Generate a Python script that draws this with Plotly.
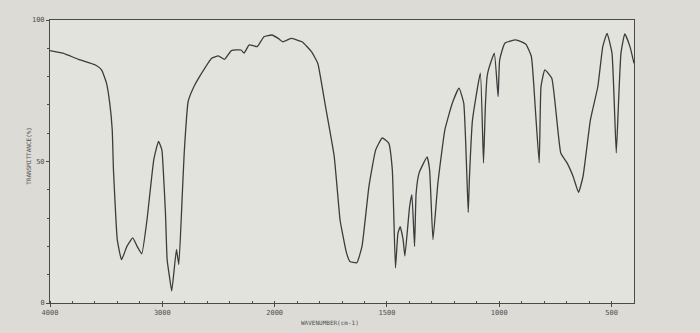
import plotly.graph_objects as go

# IR spectrum: wavenumber (cm-1) and transmittance (%)
wavenumber = [4000, 3885, 3747, 3595, 3541, 3497, 3468, 3446, 3435, 3419, 3401, 3363,
              3315, 3263, 3224, 3183, 3136, 3076, 3034, 3004, 2990, 2972, 2957, 2937,
              2916, 2874, 2853, 2824, 2805, 2770, 2718, 2670, 2560, 2501, 2446, 2385,
              2299, 2272, 2226, 2155, 2095, 2023, 1984, 1963, 1927, 1878, 1836, 1808,
              1776, 1735, 1709, 1701, 1680, 1665, 1634, 1611, 1580, 1550, 1521, 1492,
              1476, 1462, 1451, 1441, 1428, 1420, 1399, 1389, 1377, 1370, 1357, 1321,
              1310, 1295, 1273, 1242, 1209, 1179, 1158, 1138, 1133, 1119, 1084, 1070,
              1062, 1054, 1048, 1022, 1005, 998, 975, 926, 882, 857, 839, 822,
              814, 797, 766, 726, 698, 671, 647, 627, 594, 561, 539, 520,
              498, 479, 469, 458, 441, 418, 400]
transmittance = [89.2, 88.3, 86.1, 84.1, 82.4, 77.7, 70.6, 61.2, 47.1, 34.1, 22.4, 15.3,
                 20.0, 23.0, 20.0, 17.4, 29.5, 50.6, 57.1, 54.1, 45.9, 31.9, 15.3, 9.5,
                 4.2, 18.9, 13.6, 36.5, 53.0, 71.2, 76.5, 79.9, 86.5, 87.3, 86.1, 89.2,
                 89.4, 88.3, 91.2, 90.6, 94.1, 94.7, 93.5, 92.3, 93.5, 92.3, 88.8, 84.7,
                 70.6, 52.0, 29.5, 25.9, 17.7, 14.7, 14.2, 20.0, 41.2, 54.1, 58.3, 56.5,
                 47.1, 12.4, 24.6, 27.0, 22.4, 16.6, 34.1, 38.3, 20.0, 38.8, 45.9, 51.6,
                 47.1, 22.4, 42.4, 61.2, 70.6, 75.9, 70.6, 32.0, 43.6, 64.7, 81.2, 49.5,
                 69.0, 80.0, 82.4, 88.3, 72.9, 85.9, 91.8, 93.0, 91.5, 87.1, 68.3, 49.5,
                 76.5, 82.4, 79.4, 53.0, 49.5, 44.7, 39.1, 44.7, 64.7, 76.5, 90.6, 95.3,
                 88.3, 53.0, 70.6, 88.3, 95.1, 90.6, 84.7]

x_tick_labels = [4000, 3000, 2000, 1500, 1000, 500]
y_tick_labels = [0, 50, 100]


def chart_pos(w):
    # chart paper scale: 1000 cm-1 per unit above 2000, 500 cm-1 per unit below
    return (4000 - w) / 1000 if w >= 2000 else 2 + (2000 - w) / 500


xs = [chart_pos(w) for w in wavenumber]

fig = go.Figure()
fig.add_trace(go.Scatter(
    x=xs, y=transmittance, mode="lines",
    line=dict(color="#3c3c3c", width=1.3, shape="spline", smoothing=0.4),
    hoverinfo="skip", showlegend=False))

axis_font = dict(family="DejaVu Sans Mono", size=7, color="#505050")

fig.update_layout(
    width=700, height=333,
    margin=dict(l=50, r=66, t=20, b=30),
    paper_bgcolor="#dcdbd5",
    plot_bgcolor="#e3e3de",
    font=axis_font,
    xaxis=dict(
        range=[0, chart_pos(400)],
        tickmode="array",
        tickvals=[chart_pos(v) for v in x_tick_labels],
        ticktext=[str(v) for v in x_tick_labels],
        showgrid=False, zeroline=False,
        showline=True, linecolor="#4a4a4a", linewidth=1, mirror=True,
        ticks="outside", ticklen=3, tickcolor="#4a4a4a",
        minor=dict(tickmode="linear", tick0=0, dtick=0.2, ticks="inside",
                   ticklen=2, tickcolor="#4a4a4a"),
        tickfont=axis_font,
    ),
    yaxis=dict(
        range=[0, 100],
        tickmode="array",
        tickvals=y_tick_labels,
        ticktext=[str(v) for v in y_tick_labels],
        showgrid=False, zeroline=False,
        showline=True, linecolor="#4a4a4a", linewidth=1, mirror=True,
        ticks="outside", ticklen=3, tickcolor="#4a4a4a",
        minor=dict(tickmode="linear", tick0=0, dtick=10, ticks="outside",
                   ticklen=2, tickcolor="#4a4a4a"),
        tickfont=axis_font,
    ),
    annotations=[
        dict(text="WAVENUMBER(cm-1)", xref="paper", yref="paper",
             x=0.48, y=-0.068, showarrow=False, xanchor="center", yanchor="middle",
             font=dict(family="DejaVu Sans Mono", size=6, color="#505050")),
        dict(text="TRANSMITTANCE(%)", xref="paper", yref="paper",
             x=-0.036, y=0.52, showarrow=False, textangle=-90,
             xanchor="center", yanchor="middle",
             font=dict(family="DejaVu Sans Mono", size=6, color="#505050")),
    ],
)

fig.write_html("out.html")
